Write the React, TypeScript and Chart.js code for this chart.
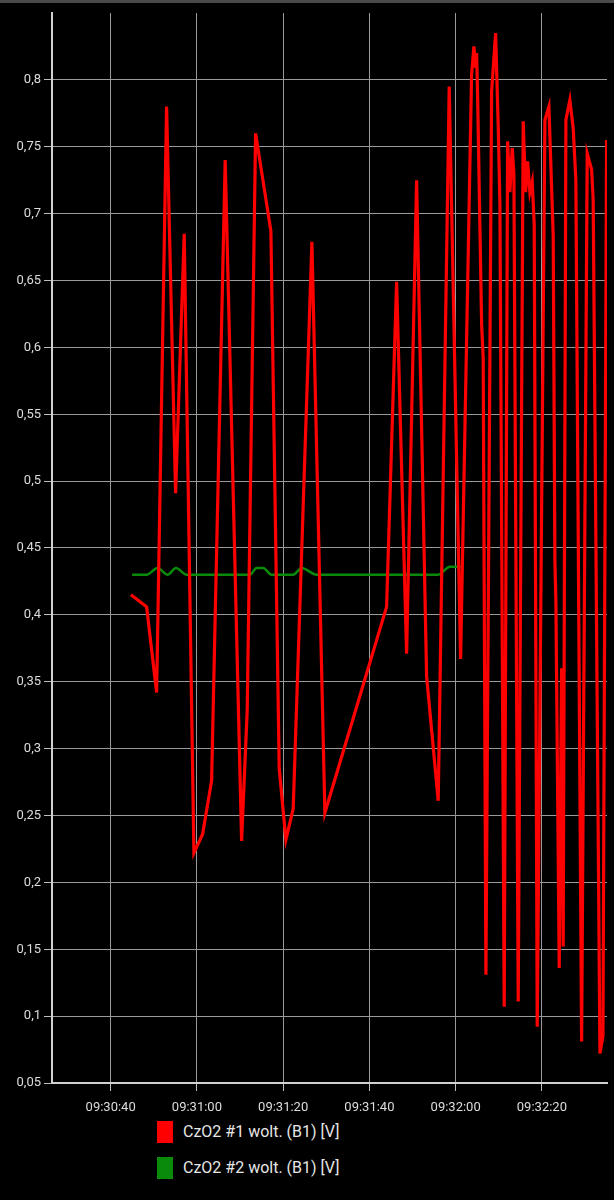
import { useEffect, useRef } from "react";
import { Chart, registerables } from "chart.js";

Chart.register(...registerables);

// Time values are seconds after 09:30:00
const redTimes = [
  44.7, 48.34, 50.66, 52.97, 55.06, 57.06, 59.31, 61.32, 63.41, 66.56,
  70.37, 71.67, 73.61, 77.16, 79.09, 80.64, 82.33, 86.67, 89.68, 103.99,
  106.31, 108.63, 110.95, 113.27, 115.96, 118.51, 121.15, 123.7, 124.24, 124.63,
  124.87, 125.1, 126.03, 126.39, 127.02, 128.34, 129.27, 129.87, 130.27, 131.26,
  132.05, 132.58, 133.12, 133.51, 134.51, 135.67, 136.23, 136.69, 137.22, 137.76,
  138.22, 138.92, 140.7, 141.63, 142.63, 143.02, 143.25, 144.02, 144.57, 144.94,
  145.57, 146.49, 147.26, 147.88, 149.21, 150.51, 151.53, 151.9, 153.46, 154.16,
  155.0,
];
const redValues = [
  0.415, 0.406, 0.342, 0.78, 0.491, 0.685, 0.222, 0.236, 0.276, 0.74,
  0.231, 0.329, 0.76, 0.687, 0.285, 0.232, 0.255, 0.679, 0.252, 0.406,
  0.649, 0.371, 0.725, 0.354, 0.261, 0.795, 0.367, 0.804, 0.825, 0.809,
  0.82, 0.787, 0.617, 0.592, 0.131, 0.791, 0.835, 0.766, 0.707, 0.107,
  0.754, 0.716, 0.749, 0.73, 0.111, 0.769, 0.716, 0.739, 0.716, 0.724,
  0.692, 0.092, 0.77, 0.78, 0.683, 0.44, 0.41, 0.136, 0.36, 0.152,
  0.77, 0.785, 0.764, 0.725, 0.081, 0.745, 0.733, 0.71, 0.072, 0.085,
  0.755,
];
const greenTimes = [
  44.99, 48.34, 50.89, 53.21, 55.13, 57.61, 72.29, 73.84, 75.38, 77.32,
  82.33, 84.28, 87.76, 115.96, 118.67, 121.15,
];
const greenValues = [
  0.43, 0.43, 0.435, 0.43, 0.435, 0.43, 0.43, 0.435, 0.435, 0.43,
  0.43, 0.435, 0.43, 0.43, 0.436, 0.436,
];
const xTickSeconds = [40, 60, 80, 100, 120, 140];
const yTickValues = [
  0.05, 0.1, 0.15, 0.2, 0.25, 0.3, 0.35, 0.4, 0.45, 0.5, 0.55, 0.6, 0.65,
  0.7, 0.75, 0.8,
];
const seriesLabels = ["CzO2 #1 wolt. (B1) [V]", "CzO2 #2 wolt. (B1) [V]"];
const seriesColors = ["#ff0000", "#0a8a0a"];

const X_MIN = 26.4;
const X_MAX = 155.1;
const Y_MIN = 0.05;
const Y_MAX = 0.85;

function fmtTime(s: number): string {
  const total = 9 * 3600 + 30 * 60 + Math.round(s);
  const hh = Math.floor(total / 3600);
  const mm = Math.floor((total % 3600) / 60);
  const ss = total % 60;
  const p = (n: number) => String(n).padStart(2, "0");
  return `${p(hh)}:${p(mm)}:${p(ss)}`;
}

function fmtVal(v: number): string {
  return String(Number(v.toFixed(2))).replace(".", ",");
}

const CANVAS_H = 1118;

export default function App() {
  const ref = useRef<HTMLCanvasElement | null>(null);

  useEffect(() => {
    if (!ref.current) return;
    const font = { family: "Roboto", size: 13 };
    const chart = new Chart(ref.current, {
      type: "line",
      data: {
        datasets: [
          {
            label: seriesLabels[0],
            data: redTimes.map((t, i) => ({ x: t, y: redValues[i] })),
            borderColor: seriesColors[0],
            backgroundColor: seriesColors[0],
            borderWidth: 3.2,
            pointRadius: 0,
            tension: 0,
          },
          {
            label: seriesLabels[1],
            data: greenTimes.map((t, i) => ({ x: t, y: greenValues[i] })),
            borderColor: seriesColors[1],
            backgroundColor: seriesColors[1],
            borderWidth: 2.5,
            pointRadius: 0,
            cubicInterpolationMode: "monotone",
          },
        ],
      },
      options: {
        animation: false,
        responsive: false,
        maintainAspectRatio: false,
        layout: { padding: { top: 13, right: 7, left: 0, bottom: 0 } },
        plugins: { legend: { display: false }, tooltip: { enabled: false } },
        scales: {
          x: {
            type: "linear",
            min: X_MIN,
            max: X_MAX,
            afterBuildTicks: (s: any) => {
              s.ticks = xTickSeconds.map((v) => ({ value: v }));
            },
            afterFit: (s: any) => {
              s.height = 35;
            },
            ticks: {
              callback: (v: any) => fmtTime(Number(v)),
              color: "#dcdcdc",
              font,
              maxRotation: 0,
              autoSkip: false,
              padding: 9,
            },
            grid: {
              color: "#9a9a9a",
              lineWidth: 1,
              tickLength: 8,
              tickColor: "#bdbdbd",
            },
            border: { color: "#d0d0d0", width: 2 },
          },
          y: {
            type: "linear",
            min: Y_MIN,
            max: Y_MAX,
            afterBuildTicks: (s: any) => {
              s.ticks = yTickValues.map((v) => ({ value: v }));
            },
            afterFit: (s: any) => {
              s.width = 52;
            },
            ticks: {
              callback: (v: any) => fmtVal(Number(v)),
              color: "#dcdcdc",
              font,
              padding: 3,
            },
            grid: {
              color: "#9a9a9a",
              lineWidth: 1,
              tickLength: 8,
              tickColor: "#bdbdbd",
            },
            border: { color: "#d0d0d0", width: 2 },
          },
        },
      },
    } as any);
    return () => chart.destroy();
  }, []);

  return (
    <div
      style={{
        position: "absolute",
        left: 0,
        top: 0,
        width: 614,
        height: 1200,
        background: "#000",
        overflow: "hidden",
        fontFamily: "Roboto, sans-serif",
      }}
    >
      <div style={{ position: "absolute", left: 0, top: 0, width: 614, height: 3, background: "#4a4a4a" }} />
      <canvas
        ref={ref}
        width={614}
        height={CANVAS_H}
        style={{ position: "absolute", left: 0, top: 0, width: 614, height: CANVAS_H }}
      />
      {seriesLabels.map((lbl, i) => (
        <div
          key={lbl}
          style={{
            position: "absolute",
            left: 157,
            top: 1121 + i * 36,
            height: 22,
            display: "flex",
            alignItems: "center",
          }}
        >
          <div style={{ width: 16, height: 22, background: seriesColors[i] }} />
          <span style={{ marginLeft: 10, color: "#e6e6e6", fontSize: 16, lineHeight: "22px" }}>{lbl}</span>
        </div>
      ))}
    </div>
  );
}
